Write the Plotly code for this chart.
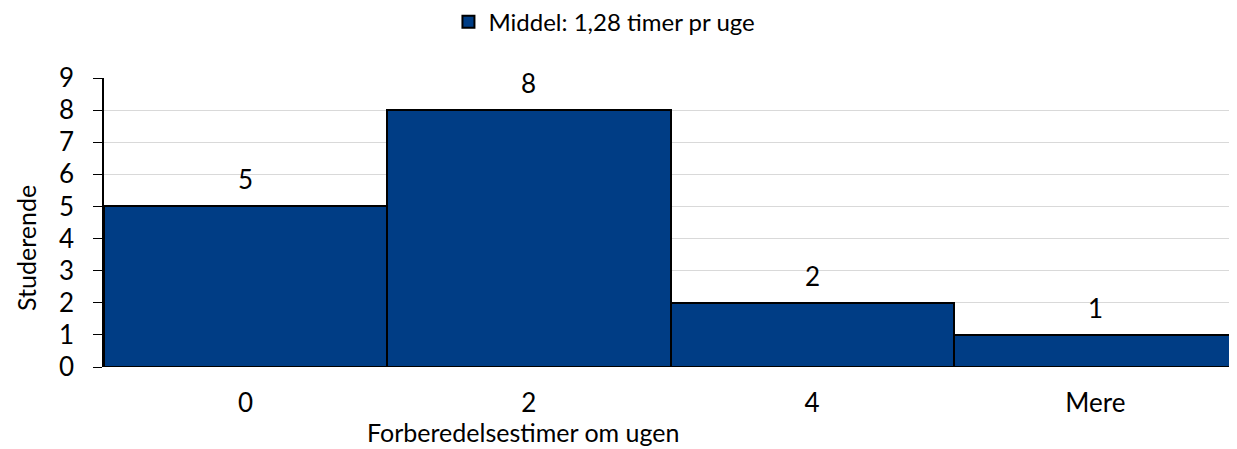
import plotly.graph_objects as go

categories = ["0", "2", "4", "Mere"]
students = [5, 8, 2, 1]
series_name = "Middel: 1,28 timer pr uge"
x_title = "Forberedelsestimer om ugen"
y_title = "Studerende"
y_ticks = list(range(0, 10))

FONT = "Lato"
fig = go.Figure()
fig.add_trace(go.Bar(
    x=categories, y=students, name=series_name,
    marker=dict(color="#003D85", line=dict(color="black", width=2)),
    showlegend=True,
))
for i, v in enumerate(students):
    fig.add_annotation(x=i, y=v, text=str(v), showarrow=False, yanchor="bottom",
                       yshift=9, font=dict(size=26, color="black", family=FONT))
# axis titles (offset from centre as in the reference)
fig.add_annotation(text=x_title, xref="paper", yref="paper", x=0.37, y=0,
                   xanchor="center", yanchor="middle", yshift=-65, showarrow=False,
                   borderpad=0, font=dict(size=25, color="black", family=FONT))
fig.add_annotation(text=y_title, xref="paper", yref="paper", x=0, y=0.412,
                   xanchor="center", yanchor="middle", xshift=-78, textangle=-90,
                   borderpad=0, showarrow=False, font=dict(size=25, color="black", family=FONT))
fig.update_layout(
    width=1229, height=441,
    margin=dict(l=96, r=0, t=70, b=82),
    paper_bgcolor="white", plot_bgcolor="white",
    bargap=0,
    font=dict(family=FONT, size=26, color="black"),
    showlegend=True,
    legend=dict(orientation="h", x=0.4417, xanchor="center", y=0.968, yanchor="middle",
                yref="container", font=dict(size=24), itemwidth=30),
    xaxis=dict(
        type="category",
        showline=False, ticks="", showgrid=False, automargin=False,
        tickfont=dict(size=26), ticklabelstandoff=18,
    ),
    yaxis=dict(
        range=[0, 9], tickvals=y_ticks, showgrid=True, gridcolor="#D9D9D9", gridwidth=1,
        showline=True, linecolor="black", linewidth=1.5, automargin=False,
        ticks="outside", ticklen=9, tickcolor="black", tickwidth=1,
        tickfont=dict(size=26), zeroline=False, ticklabelstandoff=14,
    ),
)
fig.write_html("out.html")
